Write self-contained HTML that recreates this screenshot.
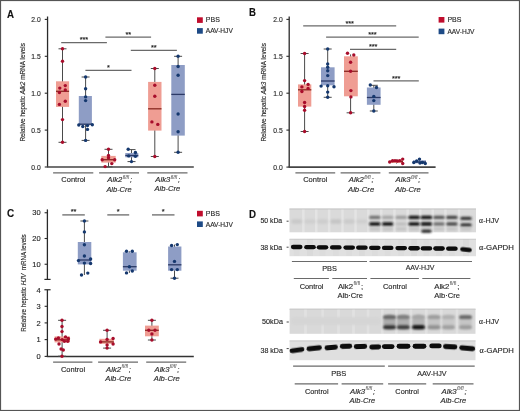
<!DOCTYPE html>
<html><head><meta charset="utf-8"><style>
html,body{margin:0;padding:0;background:#fff;}
body{width:520px;height:411px;overflow:hidden;font-family:"Liberation Sans",sans-serif;}
svg{display:block;will-change:transform;}
</style></head><body>
<svg width="520" height="411" viewBox="0 0 520 411" font-family="Liberation Sans, sans-serif">
<style>text{stroke:#2a2a2a;stroke-width:0.15px;}</style>
<defs><filter id="bl" x="-50%" y="-50%" width="200%" height="200%"><feGaussianBlur stdDeviation="0.65"/></filter><filter id="bl2" x="-50%" y="-50%" width="200%" height="200%"><feGaussianBlur stdDeviation="0.5"/></filter><filter id="bl3" x="-50%" y="-80%" width="200%" height="260%"><feGaussianBlur stdDeviation="0.95"/></filter></defs>
<rect x="0" y="0" width="520" height="411" fill="#ffffff" />
<text x="7.0" y="17.6" font-size="10.7" text-anchor="start" fill="#111" font-weight="bold" font-style="normal"  textLength="7.0" lengthAdjust="spacingAndGlyphs">A</text>
<line x1="47.55" y1="16.5" x2="47.55" y2="167.0" stroke="#2a2a2a" stroke-width="1.3"/>
<line x1="44.75" y1="19.4" x2="47.55" y2="19.4" stroke="#2a2a2a" stroke-width="1.1"/>
<text x="40.7" y="22.1" font-size="7.5" text-anchor="end" fill="#2a2a2a" font-weight="normal" font-style="normal"  textLength="9.4" lengthAdjust="spacingAndGlyphs">2.0</text>
<line x1="44.75" y1="56.3" x2="47.55" y2="56.3" stroke="#2a2a2a" stroke-width="1.1"/>
<text x="40.7" y="59.0" font-size="7.5" text-anchor="end" fill="#2a2a2a" font-weight="normal" font-style="normal"  textLength="9.4" lengthAdjust="spacingAndGlyphs">1.5</text>
<line x1="44.75" y1="93.2" x2="47.55" y2="93.2" stroke="#2a2a2a" stroke-width="1.1"/>
<text x="40.7" y="95.9" font-size="7.5" text-anchor="end" fill="#2a2a2a" font-weight="normal" font-style="normal"  textLength="9.4" lengthAdjust="spacingAndGlyphs">1.0</text>
<line x1="44.75" y1="130.1" x2="47.55" y2="130.1" stroke="#2a2a2a" stroke-width="1.1"/>
<text x="40.7" y="132.8" font-size="7.5" text-anchor="end" fill="#2a2a2a" font-weight="normal" font-style="normal"  textLength="9.4" lengthAdjust="spacingAndGlyphs">0.5</text>
<line x1="44.75" y1="167.0" x2="47.55" y2="167.0" stroke="#2a2a2a" stroke-width="1.1"/>
<text x="40.7" y="169.7" font-size="7.5" text-anchor="end" fill="#2a2a2a" font-weight="normal" font-style="normal"  textLength="9.4" lengthAdjust="spacingAndGlyphs">0.0</text>
<line x1="47.0" y1="167.05" x2="193.8" y2="167.05" stroke="#444" stroke-width="1.6"/>
<text transform="translate(24.6,92.35) rotate(-90)" font-size="6.8" text-anchor="middle" fill="#2a2a2a" textLength="98.5" lengthAdjust="spacingAndGlyphs"><tspan font-style="normal">Relative hepatic </tspan><tspan font-style="italic">Alk2</tspan><tspan font-style="normal"> mRNA levels</tspan></text>
<line x1="53.1" y1="172.8" x2="93.3" y2="172.8" stroke="#6a6a6a" stroke-width="1.3"/>
<line x1="99.1" y1="172.8" x2="139" y2="172.8" stroke="#6a6a6a" stroke-width="1.3"/>
<line x1="147.3" y1="172.8" x2="187.5" y2="172.8" stroke="#6a6a6a" stroke-width="1.3"/>
<text x="73.45" y="182.3" font-size="8.0" text-anchor="middle" fill="#2a2a2a" font-weight="normal" font-style="normal"  textLength="24.2" lengthAdjust="spacingAndGlyphs">Control</text>
<text x="107.3" y="182.1" font-size="7.7" fill="#2a2a2a" font-style="italic">Alk2<tspan font-size="5.08" dx="0.4" dy="-3.4" style="stroke:none" fill="#444">fl/fl</tspan><tspan dx="0.9" dy="3.4">;</tspan></text>
<text x="106.4" y="191.5" font-size="7.7" text-anchor="start" fill="#2a2a2a" font-weight="normal" font-style="italic"  textLength="25.2" lengthAdjust="spacingAndGlyphs">Alb-Cre</text>
<text x="155.3" y="182.1" font-size="7.7" fill="#2a2a2a" font-style="italic">Alk3<tspan font-size="5.08" dx="0.4" dy="-3.4" style="stroke:none" fill="#444">fl/fl</tspan><tspan dx="0.9" dy="3.4">;</tspan></text>
<text x="154.4" y="191.4" font-size="7.7" text-anchor="start" fill="#2a2a2a" font-weight="normal" font-style="italic"  textLength="25.8" lengthAdjust="spacingAndGlyphs">Alb-Cre</text>
<line x1="62.5" y1="48.8" x2="62.5" y2="142.3" stroke="#4a4a4a" stroke-width="1.0"/>
<rect x="56" y="81.3" width="13.1" height="25.6" fill="#ef9d93" />
<line x1="56" y1="91.3" x2="69.1" y2="91.3" stroke="#8a2a22" stroke-width="1.3"/>
<line x1="58.5" y1="48.8" x2="66.5" y2="48.8" stroke="#4a4a4a" stroke-width="1.0"/>
<line x1="58.5" y1="142.3" x2="66.5" y2="142.3" stroke="#4a4a4a" stroke-width="1.0"/>
<circle cx="62.5" cy="48.8" r="1.7" fill="#a80d2b"/>
<circle cx="62.5" cy="61.3" r="1.7" fill="#a80d2b"/>
<circle cx="65.3" cy="85.6" r="1.7" fill="#a80d2b"/>
<circle cx="59.8" cy="88.1" r="1.7" fill="#a80d2b"/>
<circle cx="65.3" cy="90" r="1.7" fill="#a80d2b"/>
<circle cx="59.4" cy="92.5" r="1.7" fill="#a80d2b"/>
<circle cx="65.3" cy="101.3" r="1.7" fill="#a80d2b"/>
<circle cx="59.4" cy="104.4" r="1.7" fill="#a80d2b"/>
<circle cx="62.5" cy="119.6" r="1.7" fill="#a80d2b"/>
<circle cx="62.5" cy="142.3" r="1.7" fill="#a80d2b"/>
<line x1="85.6" y1="77" x2="85.6" y2="140.4" stroke="#4a4a4a" stroke-width="1.0"/>
<rect x="78.8" y="96" width="13.1" height="28.8" fill="#8e9dc5" />
<line x1="78.8" y1="124.2" x2="91.9" y2="124.2" stroke="#2c3a66" stroke-width="1.3"/>
<line x1="81.6" y1="77" x2="89.6" y2="77" stroke="#4a4a4a" stroke-width="1.0"/>
<line x1="81.6" y1="140.4" x2="89.6" y2="140.4" stroke="#4a4a4a" stroke-width="1.0"/>
<circle cx="85.6" cy="77" r="1.7" fill="#15386e"/>
<circle cx="85.6" cy="88.8" r="1.7" fill="#15386e"/>
<circle cx="85.6" cy="96.9" r="1.7" fill="#15386e"/>
<circle cx="85.6" cy="100.6" r="1.7" fill="#15386e"/>
<circle cx="78.8" cy="125" r="1.7" fill="#15386e"/>
<circle cx="82.8" cy="126.5" r="1.7" fill="#15386e"/>
<circle cx="87.5" cy="125.6" r="1.7" fill="#15386e"/>
<circle cx="92.3" cy="124.8" r="1.7" fill="#15386e"/>
<circle cx="87.5" cy="129.4" r="1.7" fill="#15386e"/>
<circle cx="85.6" cy="140.4" r="1.7" fill="#15386e"/>
<line x1="108.5" y1="149.3" x2="108.5" y2="166.9" stroke="#4a4a4a" stroke-width="1.0"/>
<rect x="101.3" y="155.9" width="14.4" height="6.7" fill="#ef9d93" />
<line x1="101.3" y1="159.7" x2="115.7" y2="159.7" stroke="#8a2a22" stroke-width="1.3"/>
<line x1="104.5" y1="149.3" x2="112.5" y2="149.3" stroke="#4a4a4a" stroke-width="1.0"/>
<line x1="104.5" y1="166.9" x2="112.5" y2="166.9" stroke="#4a4a4a" stroke-width="1.0"/>
<circle cx="108.5" cy="149.3" r="1.7" fill="#a80d2b"/>
<circle cx="108.5" cy="155.4" r="1.7" fill="#a80d2b"/>
<circle cx="108.5" cy="157.8" r="1.7" fill="#a80d2b"/>
<circle cx="102.2" cy="159.7" r="1.7" fill="#a80d2b"/>
<circle cx="114.7" cy="159.7" r="1.7" fill="#a80d2b"/>
<circle cx="111.8" cy="163.6" r="1.7" fill="#a80d2b"/>
<circle cx="105.1" cy="166.6" r="1.7" fill="#a80d2b"/>
<line x1="131.5" y1="149.6" x2="131.5" y2="161.6" stroke="#4a4a4a" stroke-width="1.0"/>
<rect x="125.3" y="153" width="13" height="4.3" fill="#8e9dc5" />
<line x1="125.3" y1="155.5" x2="138.3" y2="155.5" stroke="#2c3a66" stroke-width="1.3"/>
<line x1="127.5" y1="149.6" x2="135.5" y2="149.6" stroke="#4a4a4a" stroke-width="1.0"/>
<line x1="127.5" y1="161.6" x2="135.5" y2="161.6" stroke="#4a4a4a" stroke-width="1.0"/>
<circle cx="128.2" cy="149.3" r="1.7" fill="#15386e"/>
<circle cx="135.4" cy="152.5" r="1.7" fill="#15386e"/>
<circle cx="128.7" cy="155.9" r="1.7" fill="#15386e"/>
<circle cx="135.4" cy="156.3" r="1.7" fill="#15386e"/>
<circle cx="131.5" cy="161.6" r="1.7" fill="#15386e"/>
<line x1="154.8" y1="68.5" x2="154.8" y2="156.5" stroke="#4a4a4a" stroke-width="1.0"/>
<rect x="148.1" y="81.9" width="13.4" height="48.7" fill="#ef9d93" />
<line x1="148.1" y1="108.8" x2="161.5" y2="108.8" stroke="#8a2a22" stroke-width="1.3"/>
<line x1="150.8" y1="68.5" x2="158.8" y2="68.5" stroke="#4a4a4a" stroke-width="1.0"/>
<line x1="150.8" y1="156.5" x2="158.8" y2="156.5" stroke="#4a4a4a" stroke-width="1.0"/>
<circle cx="154.8" cy="68.5" r="1.7" fill="#a80d2b"/>
<circle cx="154.8" cy="85.3" r="1.7" fill="#a80d2b"/>
<circle cx="154.8" cy="96.3" r="1.7" fill="#a80d2b"/>
<circle cx="151.9" cy="121.9" r="1.7" fill="#a80d2b"/>
<circle cx="157.8" cy="124.4" r="1.7" fill="#a80d2b"/>
<circle cx="154.8" cy="156.5" r="1.7" fill="#a80d2b"/>
<line x1="178.1" y1="56.3" x2="178.1" y2="152.3" stroke="#4a4a4a" stroke-width="1.0"/>
<rect x="171.3" y="65" width="13.5" height="70.6" fill="#8e9dc5" />
<line x1="171.3" y1="94.4" x2="184.8" y2="94.4" stroke="#2c3a66" stroke-width="1.3"/>
<line x1="174.1" y1="56.3" x2="182.1" y2="56.3" stroke="#4a4a4a" stroke-width="1.0"/>
<line x1="174.1" y1="152.3" x2="182.1" y2="152.3" stroke="#4a4a4a" stroke-width="1.0"/>
<circle cx="178.1" cy="56.3" r="1.7" fill="#15386e"/>
<circle cx="178.1" cy="66.5" r="1.7" fill="#15386e"/>
<circle cx="178.1" cy="75.3" r="1.7" fill="#15386e"/>
<circle cx="178.1" cy="114" r="1.7" fill="#15386e"/>
<circle cx="178.1" cy="131.7" r="1.7" fill="#15386e"/>
<circle cx="178.1" cy="152.3" r="1.7" fill="#15386e"/>
<line x1="61.2" y1="42.6" x2="106.9" y2="42.6" stroke="#6a6a6a" stroke-width="1.3"/>
<text x="81.3" y="42.2" font-size="7.4" text-anchor="middle" fill="#111">*</text>
<text x="84.05" y="42.2" font-size="7.4" text-anchor="middle" fill="#111">*</text>
<text x="86.8" y="42.2" font-size="7.4" text-anchor="middle" fill="#111">*</text>
<line x1="105.4" y1="37.1" x2="151.1" y2="37.1" stroke="#6a6a6a" stroke-width="1.3"/>
<text x="126.88" y="36.7" font-size="7.4" text-anchor="middle" fill="#111">*</text>
<text x="129.62" y="36.7" font-size="7.4" text-anchor="middle" fill="#111">*</text>
<line x1="85.4" y1="70.3" x2="131.5" y2="70.3" stroke="#6a6a6a" stroke-width="1.3"/>
<text x="108.45" y="69.9" font-size="7.4" text-anchor="middle" fill="#111">*</text>
<line x1="130.8" y1="50.4" x2="176.9" y2="50.4" stroke="#6a6a6a" stroke-width="1.3"/>
<text x="152.48" y="50.0" font-size="7.4" text-anchor="middle" fill="#111">*</text>
<text x="155.23" y="50.0" font-size="7.4" text-anchor="middle" fill="#111">*</text>
<rect x="197" y="17.3" width="5.8" height="5.6" fill="#c00d2d" />
<text x="205.8" y="22.3" font-size="7" text-anchor="start" fill="#2a2a2a" font-weight="normal" font-style="normal" >PBS</text>
<rect x="197" y="28.1" width="5.8" height="5.6" fill="#1d4a86" />
<text x="205.8" y="33.2" font-size="7" text-anchor="start" fill="#2a2a2a" font-weight="normal" font-style="normal"  textLength="27" lengthAdjust="spacingAndGlyphs">AAV-HJV</text>
<text x="249.1" y="15.5" font-size="10.7" text-anchor="start" fill="#111" font-weight="bold" font-style="normal"  textLength="6.9" lengthAdjust="spacingAndGlyphs">B</text>
<line x1="289.2" y1="16.5" x2="289.2" y2="167.1" stroke="#2a2a2a" stroke-width="1.3"/>
<line x1="286.4" y1="19.4" x2="289.2" y2="19.4" stroke="#2a2a2a" stroke-width="1.1"/>
<text x="282.7" y="22.1" font-size="7.5" text-anchor="end" fill="#2a2a2a" font-weight="normal" font-style="normal"  textLength="9.4" lengthAdjust="spacingAndGlyphs">2.0</text>
<line x1="286.4" y1="56.3" x2="289.2" y2="56.3" stroke="#2a2a2a" stroke-width="1.1"/>
<text x="282.7" y="59.0" font-size="7.5" text-anchor="end" fill="#2a2a2a" font-weight="normal" font-style="normal"  textLength="9.4" lengthAdjust="spacingAndGlyphs">1.5</text>
<line x1="286.4" y1="93.2" x2="289.2" y2="93.2" stroke="#2a2a2a" stroke-width="1.1"/>
<text x="282.7" y="95.9" font-size="7.5" text-anchor="end" fill="#2a2a2a" font-weight="normal" font-style="normal"  textLength="9.4" lengthAdjust="spacingAndGlyphs">1.0</text>
<line x1="286.4" y1="130.1" x2="289.2" y2="130.1" stroke="#2a2a2a" stroke-width="1.1"/>
<text x="282.7" y="132.8" font-size="7.5" text-anchor="end" fill="#2a2a2a" font-weight="normal" font-style="normal"  textLength="9.4" lengthAdjust="spacingAndGlyphs">0.5</text>
<line x1="286.4" y1="167.1" x2="289.2" y2="167.1" stroke="#2a2a2a" stroke-width="1.1"/>
<text x="282.7" y="169.8" font-size="7.5" text-anchor="end" fill="#2a2a2a" font-weight="normal" font-style="normal"  textLength="9.4" lengthAdjust="spacingAndGlyphs">0.0</text>
<line x1="288.6" y1="167.15" x2="435.6" y2="167.15" stroke="#444" stroke-width="1.6"/>
<text transform="translate(265.9,92.35) rotate(-90)" font-size="6.8" text-anchor="middle" fill="#2a2a2a" textLength="98.5" lengthAdjust="spacingAndGlyphs"><tspan font-style="normal">Relative hepatic </tspan><tspan font-style="italic">Alk3</tspan><tspan font-style="normal"> mRNA levels</tspan></text>
<line x1="295.4" y1="172.8" x2="335.2" y2="172.8" stroke="#6a6a6a" stroke-width="1.3"/>
<line x1="340.6" y1="172.8" x2="380.4" y2="172.8" stroke="#6a6a6a" stroke-width="1.3"/>
<line x1="388.8" y1="172.8" x2="428.5" y2="172.8" stroke="#6a6a6a" stroke-width="1.3"/>
<text x="315.3" y="182.2" font-size="8.0" text-anchor="middle" fill="#2a2a2a" font-weight="normal" font-style="normal"  textLength="24.2" lengthAdjust="spacingAndGlyphs">Control</text>
<text x="348.8" y="182.1" font-size="7.7" fill="#2a2a2a" font-style="italic">Alk2<tspan font-size="5.08" dx="0.4" dy="-3.4" style="stroke:none" fill="#444">fl/fl</tspan><tspan dx="0.9" dy="3.4">;</tspan></text>
<text x="348.0" y="191.6" font-size="7.7" text-anchor="start" fill="#2a2a2a" font-weight="normal" font-style="italic"  textLength="26.2" lengthAdjust="spacingAndGlyphs">Alb-Cre</text>
<text x="395.6" y="182.1" font-size="7.7" fill="#2a2a2a" font-style="italic">Alk3<tspan font-size="5.08" dx="0.4" dy="-3.4" style="stroke:none" fill="#444">fl/fl</tspan><tspan dx="0.9" dy="3.4">;</tspan></text>
<text x="395.0" y="191.6" font-size="7.7" text-anchor="start" fill="#2a2a2a" font-weight="normal" font-style="italic"  textLength="25.8" lengthAdjust="spacingAndGlyphs">Alb-Cre</text>
<line x1="304.6" y1="53.5" x2="304.6" y2="131.5" stroke="#4a4a4a" stroke-width="1.0"/>
<rect x="298" y="84.4" width="13.3" height="22.2" fill="#ef9d93" />
<line x1="298" y1="89.8" x2="311.3" y2="89.8" stroke="#8a2a22" stroke-width="1.3"/>
<line x1="300.6" y1="53.5" x2="308.6" y2="53.5" stroke="#4a4a4a" stroke-width="1.0"/>
<line x1="300.6" y1="131.5" x2="308.6" y2="131.5" stroke="#4a4a4a" stroke-width="1.0"/>
<circle cx="304.6" cy="53.5" r="1.7" fill="#a80d2b"/>
<circle cx="304.6" cy="80.6" r="1.7" fill="#a80d2b"/>
<circle cx="308.1" cy="84.4" r="1.7" fill="#a80d2b"/>
<circle cx="301.9" cy="86.9" r="1.7" fill="#a80d2b"/>
<circle cx="308.1" cy="88.4" r="1.7" fill="#a80d2b"/>
<circle cx="301.9" cy="91.5" r="1.7" fill="#a80d2b"/>
<circle cx="304.6" cy="102.5" r="1.7" fill="#a80d2b"/>
<circle cx="304.6" cy="106.5" r="1.7" fill="#a80d2b"/>
<circle cx="304.6" cy="110.3" r="1.7" fill="#a80d2b"/>
<circle cx="304.6" cy="131.5" r="1.7" fill="#a80d2b"/>
<line x1="327.7" y1="49" x2="327.7" y2="97.3" stroke="#4a4a4a" stroke-width="1.0"/>
<rect x="321.0" y="67.3" width="13.6" height="18.0" fill="#8e9dc5" />
<line x1="321.0" y1="81.0" x2="334.6" y2="81.0" stroke="#2c3a66" stroke-width="1.3"/>
<line x1="323.7" y1="49" x2="331.7" y2="49" stroke="#4a4a4a" stroke-width="1.0"/>
<line x1="323.7" y1="97.3" x2="331.7" y2="97.3" stroke="#4a4a4a" stroke-width="1.0"/>
<circle cx="327.7" cy="49" r="1.7" fill="#15386e"/>
<circle cx="327.7" cy="63.9" r="1.7" fill="#15386e"/>
<circle cx="327.7" cy="67.3" r="1.7" fill="#15386e"/>
<circle cx="327.7" cy="70.7" r="1.7" fill="#15386e"/>
<circle cx="327.7" cy="75.6" r="1.7" fill="#15386e"/>
<circle cx="321.1" cy="86.1" r="1.7" fill="#15386e"/>
<circle cx="327.7" cy="85.8" r="1.7" fill="#15386e"/>
<circle cx="334" cy="86.8" r="1.7" fill="#15386e"/>
<circle cx="327.7" cy="92.1" r="1.7" fill="#15386e"/>
<circle cx="327.7" cy="97.3" r="1.7" fill="#15386e"/>
<line x1="350.6" y1="54.4" x2="350.6" y2="112.8" stroke="#4a4a4a" stroke-width="1.0"/>
<rect x="344" y="56.3" width="13.8" height="40.0" fill="#ef9d93" />
<line x1="344" y1="71.3" x2="357.8" y2="71.3" stroke="#8a2a22" stroke-width="1.3"/>
<line x1="346.6" y1="112.8" x2="354.6" y2="112.8" stroke="#4a4a4a" stroke-width="1.0"/>
<circle cx="347.5" cy="53.3" r="1.7" fill="#a80d2b"/>
<circle cx="353.8" cy="55" r="1.7" fill="#a80d2b"/>
<circle cx="350.6" cy="62.3" r="1.7" fill="#a80d2b"/>
<circle cx="350.6" cy="71.3" r="1.7" fill="#a80d2b"/>
<circle cx="350.9" cy="90.6" r="1.7" fill="#a80d2b"/>
<circle cx="350.9" cy="96.9" r="1.7" fill="#a80d2b"/>
<circle cx="350.6" cy="112.8" r="1.7" fill="#a80d2b"/>
<line x1="373.8" y1="85.3" x2="373.8" y2="111" stroke="#4a4a4a" stroke-width="1.0"/>
<rect x="366.9" y="87.5" width="13.7" height="17.3" fill="#8e9dc5" />
<line x1="366.9" y1="97.5" x2="380.6" y2="97.5" stroke="#2c3a66" stroke-width="1.3"/>
<line x1="369.8" y1="85.3" x2="377.8" y2="85.3" stroke="#4a4a4a" stroke-width="1.0"/>
<line x1="369.8" y1="111" x2="377.8" y2="111" stroke="#4a4a4a" stroke-width="1.0"/>
<circle cx="370.3" cy="85" r="1.7" fill="#15386e"/>
<circle cx="376.5" cy="87.5" r="1.7" fill="#15386e"/>
<circle cx="373.8" cy="96.5" r="1.7" fill="#15386e"/>
<circle cx="373.8" cy="100.6" r="1.7" fill="#15386e"/>
<circle cx="373.8" cy="111" r="1.7" fill="#15386e"/>
<line x1="396.5" y1="159.5" x2="396.5" y2="163.5" stroke="#4a4a4a" stroke-width="1.0"/>
<rect x="390" y="160.3" width="13" height="2.7" fill="#ef9d93" />
<line x1="390" y1="161.5" x2="403" y2="161.5" stroke="#8a2a22" stroke-width="1.3"/>
<circle cx="389.7" cy="162" r="1.7" fill="#a80d2b"/>
<circle cx="392.6" cy="160.8" r="1.7" fill="#a80d2b"/>
<circle cx="395" cy="160.6" r="1.7" fill="#a80d2b"/>
<circle cx="397.4" cy="161" r="1.7" fill="#a80d2b"/>
<circle cx="399.8" cy="160.6" r="1.7" fill="#a80d2b"/>
<circle cx="402.7" cy="159.1" r="1.7" fill="#a80d2b"/>
<circle cx="402.7" cy="163.5" r="1.7" fill="#a80d2b"/>
<line x1="419.5" y1="159.1" x2="419.5" y2="163.5" stroke="#4a4a4a" stroke-width="1.0"/>
<rect x="413" y="160.3" width="13" height="3.0" fill="#8e9dc5" />
<line x1="413" y1="162" x2="426" y2="162" stroke="#2c3a66" stroke-width="1.3"/>
<circle cx="413.8" cy="162.5" r="1.7" fill="#15386e"/>
<circle cx="416.7" cy="161" r="1.7" fill="#15386e"/>
<circle cx="419.5" cy="159.1" r="1.7" fill="#15386e"/>
<circle cx="420" cy="163" r="1.7" fill="#15386e"/>
<circle cx="422.4" cy="162.5" r="1.7" fill="#15386e"/>
<circle cx="425.3" cy="163.5" r="1.7" fill="#15386e"/>
<line x1="303.2" y1="25.9" x2="396.2" y2="25.9" stroke="#6a6a6a" stroke-width="1.3"/>
<text x="346.95" y="25.5" font-size="7.4" text-anchor="middle" fill="#111">*</text>
<text x="349.7" y="25.5" font-size="7.4" text-anchor="middle" fill="#111">*</text>
<text x="352.45" y="25.5" font-size="7.4" text-anchor="middle" fill="#111">*</text>
<line x1="326.1" y1="37.1" x2="418.7" y2="37.1" stroke="#6a6a6a" stroke-width="1.3"/>
<text x="369.65" y="36.7" font-size="7.4" text-anchor="middle" fill="#111">*</text>
<text x="372.4" y="36.7" font-size="7.4" text-anchor="middle" fill="#111">*</text>
<text x="375.15" y="36.7" font-size="7.4" text-anchor="middle" fill="#111">*</text>
<line x1="350" y1="49.3" x2="396.2" y2="49.3" stroke="#6a6a6a" stroke-width="1.3"/>
<text x="370.35" y="48.9" font-size="7.4" text-anchor="middle" fill="#111">*</text>
<text x="373.1" y="48.9" font-size="7.4" text-anchor="middle" fill="#111">*</text>
<text x="375.85" y="48.9" font-size="7.4" text-anchor="middle" fill="#111">*</text>
<line x1="373.5" y1="80.9" x2="418.8" y2="80.9" stroke="#6a6a6a" stroke-width="1.3"/>
<text x="393.4" y="80.5" font-size="7.4" text-anchor="middle" fill="#111">*</text>
<text x="396.15" y="80.5" font-size="7.4" text-anchor="middle" fill="#111">*</text>
<text x="398.9" y="80.5" font-size="7.4" text-anchor="middle" fill="#111">*</text>
<rect x="438.6" y="17" width="5.8" height="5.6" fill="#c00d2d" />
<text x="447.4" y="22.0" font-size="7" text-anchor="start" fill="#2a2a2a" font-weight="normal" font-style="normal" >PBS</text>
<rect x="438.6" y="28.6" width="5.8" height="5.6" fill="#1d4a86" />
<text x="447.4" y="33.7" font-size="7" text-anchor="start" fill="#2a2a2a" font-weight="normal" font-style="normal"  textLength="27" lengthAdjust="spacingAndGlyphs">AAV-HJV</text>
<text x="7.0" y="217.2" font-size="10.7" text-anchor="start" fill="#111" font-weight="bold" font-style="normal"  textLength="7.2" lengthAdjust="spacingAndGlyphs">C</text>
<line x1="47.4" y1="209.4" x2="47.4" y2="279.4" stroke="#2a2a2a" stroke-width="1.3"/>
<line x1="44.6" y1="212.75" x2="47.4" y2="212.75" stroke="#2a2a2a" stroke-width="1.1"/>
<text x="40.6" y="215.45" font-size="7.5" text-anchor="end" fill="#2a2a2a" font-weight="normal" font-style="normal" >30</text>
<line x1="44.6" y1="238.5" x2="47.4" y2="238.5" stroke="#2a2a2a" stroke-width="1.1"/>
<text x="40.6" y="241.2" font-size="7.5" text-anchor="end" fill="#2a2a2a" font-weight="normal" font-style="normal" >20</text>
<line x1="44.6" y1="264.25" x2="47.4" y2="264.25" stroke="#2a2a2a" stroke-width="1.1"/>
<text x="40.6" y="266.95" font-size="7.5" text-anchor="end" fill="#2a2a2a" font-weight="normal" font-style="normal" >10</text>
<line x1="44.4" y1="279.4" x2="50.6" y2="279.4" stroke="#2a2a2a" stroke-width="1.2"/>
<line x1="47.4" y1="289.75" x2="47.4" y2="356.5" stroke="#2a2a2a" stroke-width="1.3"/>
<line x1="44.6" y1="306.3" x2="47.4" y2="306.3" stroke="#2a2a2a" stroke-width="1.1"/>
<text x="40.6" y="309.0" font-size="7.5" text-anchor="end" fill="#2a2a2a" font-weight="normal" font-style="normal" >3</text>
<line x1="44.6" y1="322.9" x2="47.4" y2="322.9" stroke="#2a2a2a" stroke-width="1.1"/>
<text x="40.6" y="325.6" font-size="7.5" text-anchor="end" fill="#2a2a2a" font-weight="normal" font-style="normal" >2</text>
<line x1="44.6" y1="339.6" x2="47.4" y2="339.6" stroke="#2a2a2a" stroke-width="1.1"/>
<text x="40.6" y="342.3" font-size="7.5" text-anchor="end" fill="#2a2a2a" font-weight="normal" font-style="normal" >1</text>
<line x1="44.6" y1="356.4" x2="47.4" y2="356.4" stroke="#2a2a2a" stroke-width="1.1"/>
<text x="40.6" y="359.1" font-size="7.5" text-anchor="end" fill="#2a2a2a" font-weight="normal" font-style="normal" >0</text>
<line x1="44.4" y1="289.75" x2="50.6" y2="289.75" stroke="#2a2a2a" stroke-width="1.2"/>
<text x="40.6" y="292.5" font-size="7.5" text-anchor="end" fill="#2a2a2a" font-weight="normal" font-style="normal" >4</text>
<line x1="46.8" y1="356.5" x2="193.8" y2="356.5" stroke="#333" stroke-width="1.5"/>
<text transform="translate(26.4,283.05) rotate(-90)" font-size="6.8" text-anchor="middle" fill="#2a2a2a" textLength="97.5" lengthAdjust="spacingAndGlyphs"><tspan font-style="normal">Relative hepatic </tspan><tspan font-style="italic">HJV</tspan><tspan font-style="normal"> mRNA levels</tspan></text>
<line x1="53.1" y1="362.2" x2="92.4" y2="362.2" stroke="#6a6a6a" stroke-width="1.3"/>
<line x1="98.1" y1="362.2" x2="138" y2="362.2" stroke="#6a6a6a" stroke-width="1.3"/>
<line x1="146.2" y1="362.2" x2="186.2" y2="362.2" stroke="#6a6a6a" stroke-width="1.3"/>
<text x="73.05" y="371.5" font-size="8.0" text-anchor="middle" fill="#2a2a2a" font-weight="normal" font-style="normal"  textLength="24.2" lengthAdjust="spacingAndGlyphs">Control</text>
<text x="106.1" y="371.7" font-size="7.7" fill="#2a2a2a" font-style="italic">Alk2<tspan font-size="5.08" dx="0.4" dy="-3.4" style="stroke:none" fill="#444">fl/fl</tspan><tspan dx="0.9" dy="3.4">;</tspan></text>
<text x="105.3" y="380.9" font-size="7.7" text-anchor="start" fill="#2a2a2a" font-weight="normal" font-style="italic"  textLength="26.0" lengthAdjust="spacingAndGlyphs">Alb-Cre</text>
<text x="154.5" y="371.7" font-size="7.7" fill="#2a2a2a" font-style="italic">Alk3<tspan font-size="5.08" dx="0.4" dy="-3.4" style="stroke:none" fill="#444">fl/fl</tspan><tspan dx="0.9" dy="3.4">;</tspan></text>
<text x="153.8" y="380.9" font-size="7.7" text-anchor="start" fill="#2a2a2a" font-weight="normal" font-style="italic"  textLength="25.9" lengthAdjust="spacingAndGlyphs">Alb-Cre</text>
<line x1="62.1" y1="320.3" x2="62.1" y2="356.2" stroke="#4a4a4a" stroke-width="1.0"/>
<rect x="54.6" y="336.4" width="15.3" height="6.0" fill="#ef9d93" />
<line x1="54.6" y1="339.8" x2="69.9" y2="339.8" stroke="#8a2a22" stroke-width="1.3"/>
<line x1="58.1" y1="320.3" x2="66.1" y2="320.3" stroke="#4a4a4a" stroke-width="1.0"/>
<line x1="58.1" y1="356.2" x2="66.1" y2="356.2" stroke="#4a4a4a" stroke-width="1.0"/>
<circle cx="62" cy="320.3" r="1.7" fill="#a80d2b"/>
<circle cx="62" cy="326.5" r="1.7" fill="#a80d2b"/>
<circle cx="62" cy="331.6" r="1.7" fill="#a80d2b"/>
<circle cx="55.7" cy="339.1" r="1.7" fill="#a80d2b"/>
<circle cx="58.4" cy="338" r="1.7" fill="#a80d2b"/>
<circle cx="62.2" cy="339.6" r="1.7" fill="#a80d2b"/>
<circle cx="65.5" cy="336.9" r="1.7" fill="#a80d2b"/>
<circle cx="68.3" cy="338.5" r="1.7" fill="#a80d2b"/>
<circle cx="64.4" cy="341.3" r="1.7" fill="#a80d2b"/>
<circle cx="67.7" cy="341.3" r="1.7" fill="#a80d2b"/>
<circle cx="59" cy="344" r="1.7" fill="#a80d2b"/>
<circle cx="61.1" cy="349" r="1.7" fill="#a80d2b"/>
<circle cx="63.3" cy="350" r="1.7" fill="#a80d2b"/>
<circle cx="62" cy="356.2" r="1.7" fill="#a80d2b"/>
<line x1="107.1" y1="330.3" x2="107.1" y2="348.1" stroke="#4a4a4a" stroke-width="1.0"/>
<rect x="99.4" y="338.8" width="14.4" height="5.0" fill="#ef9d93" />
<line x1="99.4" y1="341.9" x2="113.8" y2="341.9" stroke="#8a2a22" stroke-width="1.3"/>
<line x1="103.1" y1="330.3" x2="111.1" y2="330.3" stroke="#4a4a4a" stroke-width="1.0"/>
<line x1="103.1" y1="348.1" x2="111.1" y2="348.1" stroke="#4a4a4a" stroke-width="1.0"/>
<circle cx="107.1" cy="330.3" r="1.7" fill="#a80d2b"/>
<circle cx="107.1" cy="339.4" r="1.7" fill="#a80d2b"/>
<circle cx="113.1" cy="338.5" r="1.7" fill="#a80d2b"/>
<circle cx="100.6" cy="341.9" r="1.7" fill="#a80d2b"/>
<circle cx="113.1" cy="344" r="1.7" fill="#a80d2b"/>
<circle cx="107.1" cy="345" r="1.7" fill="#a80d2b"/>
<circle cx="107.1" cy="348.1" r="1.7" fill="#a80d2b"/>
<line x1="151.9" y1="320.3" x2="151.9" y2="340" stroke="#4a4a4a" stroke-width="1.0"/>
<rect x="145" y="325.6" width="13.8" height="10.7" fill="#ef9d93" />
<line x1="145" y1="330.3" x2="158.8" y2="330.3" stroke="#8a2a22" stroke-width="1.3"/>
<line x1="147.9" y1="320.3" x2="155.9" y2="320.3" stroke="#4a4a4a" stroke-width="1.0"/>
<line x1="147.9" y1="340" x2="155.9" y2="340" stroke="#4a4a4a" stroke-width="1.0"/>
<circle cx="151.9" cy="320.3" r="1.7" fill="#a80d2b"/>
<circle cx="148.8" cy="330.3" r="1.7" fill="#a80d2b"/>
<circle cx="155" cy="330.3" r="1.7" fill="#a80d2b"/>
<circle cx="151.9" cy="334" r="1.7" fill="#a80d2b"/>
<circle cx="151.9" cy="340" r="1.7" fill="#a80d2b"/>
<line x1="84.4" y1="221" x2="84.4" y2="275" stroke="#4a4a4a" stroke-width="1.0"/>
<rect x="77.8" y="242" width="13.5" height="22.4" fill="#8e9dc5" />
<line x1="77.8" y1="260" x2="91.3" y2="260" stroke="#2c3a66" stroke-width="1.3"/>
<line x1="80.4" y1="221" x2="88.4" y2="221" stroke="#4a4a4a" stroke-width="1.0"/>
<circle cx="84.4" cy="221" r="1.7" fill="#15386e"/>
<circle cx="84.4" cy="231.9" r="1.7" fill="#15386e"/>
<circle cx="84.4" cy="244.8" r="1.7" fill="#15386e"/>
<circle cx="84.4" cy="256" r="1.7" fill="#15386e"/>
<circle cx="78.5" cy="260.6" r="1.7" fill="#15386e"/>
<circle cx="90.6" cy="259" r="1.7" fill="#15386e"/>
<circle cx="84.4" cy="263.1" r="1.7" fill="#15386e"/>
<circle cx="90.6" cy="263.5" r="1.7" fill="#15386e"/>
<circle cx="81.5" cy="275" r="1.7" fill="#15386e"/>
<circle cx="87.8" cy="273.1" r="1.7" fill="#15386e"/>
<line x1="129.4" y1="251.3" x2="129.4" y2="272.9" stroke="#4a4a4a" stroke-width="1.0"/>
<rect x="122.9" y="252.3" width="13.7" height="18.4" fill="#8e9dc5" />
<line x1="122.9" y1="266.7" x2="136.6" y2="266.7" stroke="#2c3a66" stroke-width="1.3"/>
<circle cx="126.5" cy="251.3" r="1.7" fill="#15386e"/>
<circle cx="132.3" cy="251.3" r="1.7" fill="#15386e"/>
<circle cx="129.4" cy="266.7" r="1.7" fill="#15386e"/>
<circle cx="126.5" cy="272.9" r="1.7" fill="#15386e"/>
<circle cx="132.3" cy="271" r="1.7" fill="#15386e"/>
<line x1="174.5" y1="244.6" x2="174.5" y2="278.2" stroke="#4a4a4a" stroke-width="1.0"/>
<rect x="168.1" y="246.5" width="13.3" height="24.2" fill="#8e9dc5" />
<line x1="168.1" y1="264.8" x2="181.4" y2="264.8" stroke="#2c3a66" stroke-width="1.3"/>
<line x1="170.5" y1="278.2" x2="178.5" y2="278.2" stroke="#4a4a4a" stroke-width="1.0"/>
<circle cx="171.6" cy="245.5" r="1.7" fill="#15386e"/>
<circle cx="177.3" cy="244.6" r="1.7" fill="#15386e"/>
<circle cx="174.5" cy="261.4" r="1.7" fill="#15386e"/>
<circle cx="171.6" cy="269.6" r="1.7" fill="#15386e"/>
<circle cx="177.3" cy="269.6" r="1.7" fill="#15386e"/>
<circle cx="174.5" cy="278.2" r="1.7" fill="#15386e"/>
<line x1="62.3" y1="214.9" x2="84.8" y2="214.9" stroke="#6a6a6a" stroke-width="1.3"/>
<text x="72.17" y="214.3" font-size="7.4" text-anchor="middle" fill="#111">*</text>
<text x="74.92" y="214.3" font-size="7.4" text-anchor="middle" fill="#111">*</text>
<line x1="107.3" y1="214.9" x2="129.2" y2="214.9" stroke="#6a6a6a" stroke-width="1.3"/>
<text x="118.25" y="214.2" font-size="7.4" text-anchor="middle" fill="#111">*</text>
<line x1="152" y1="214.9" x2="174.5" y2="214.9" stroke="#6a6a6a" stroke-width="1.3"/>
<text x="163.25" y="214.2" font-size="7.4" text-anchor="middle" fill="#111">*</text>
<rect x="197" y="210.8" width="5.8" height="5.6" fill="#c00d2d" />
<text x="205.8" y="215.8" font-size="7" text-anchor="start" fill="#2a2a2a" font-weight="normal" font-style="normal" >PBS</text>
<rect x="197" y="221.4" width="5.8" height="5.6" fill="#1d4a86" />
<text x="205.8" y="226.5" font-size="7" text-anchor="start" fill="#2a2a2a" font-weight="normal" font-style="normal"  textLength="27" lengthAdjust="spacingAndGlyphs">AAV-HJV</text>
<text x="249.1" y="217.5" font-size="10.7" text-anchor="start" fill="#111" font-weight="bold" font-style="normal"  textLength="7.0" lengthAdjust="spacingAndGlyphs">D</text>
<rect x="289.5" y="208.5" width="186.5" height="23.8" fill="#dadada" />
<rect x="289.5" y="208.5" width="186.5" height="1.2" fill="#cbcbcb" />
<rect x="302.15" y="209.5" width="2.4" height="22.8" fill="#fff" opacity="0.28" filter="url(#bl)"/>
<rect x="315.05" y="209.5" width="2.4" height="22.8" fill="#fff" opacity="0.28" filter="url(#bl)"/>
<rect x="327.95" y="209.5" width="2.4" height="22.8" fill="#fff" opacity="0.28" filter="url(#bl)"/>
<rect x="341.3" y="209.5" width="2.4" height="22.8" fill="#fff" opacity="0.28" filter="url(#bl)"/>
<rect x="354.35" y="209.5" width="2.4" height="22.8" fill="#fff" opacity="0.28" filter="url(#bl)"/>
<rect x="367.15" y="209.5" width="2.4" height="22.8" fill="#fff" opacity="0.28" filter="url(#bl)"/>
<rect x="380.05" y="209.5" width="2.4" height="22.8" fill="#fff" opacity="0.28" filter="url(#bl)"/>
<rect x="393.25" y="209.5" width="2.4" height="22.8" fill="#fff" opacity="0.28" filter="url(#bl)"/>
<rect x="406.45" y="209.5" width="2.4" height="22.8" fill="#fff" opacity="0.28" filter="url(#bl)"/>
<rect x="419.05" y="209.5" width="2.4" height="22.8" fill="#fff" opacity="0.28" filter="url(#bl)"/>
<rect x="431.5" y="209.5" width="2.4" height="22.8" fill="#fff" opacity="0.28" filter="url(#bl)"/>
<rect x="444.25" y="209.5" width="2.4" height="22.8" fill="#fff" opacity="0.28" filter="url(#bl)"/>
<rect x="457.75" y="209.5" width="2.4" height="22.8" fill="#fff" opacity="0.28" filter="url(#bl)"/>
<rect x="291.2" y="219.25" width="11" height="4.5" rx="2.25" fill="rgb(201,201,201)" filter="url(#bl3)"/>
<rect x="304.5" y="219.25" width="11" height="4.5" rx="2.25" fill="rgb(207,207,207)" filter="url(#bl3)"/>
<rect x="317.0" y="219.25" width="11" height="4.5" rx="2.25" fill="rgb(205,205,205)" filter="url(#bl3)"/>
<rect x="330.3" y="219.25" width="11" height="4.5" rx="2.25" fill="rgb(197,197,197)" filter="url(#bl3)"/>
<rect x="343.7" y="219.25" width="11" height="4.5" rx="2.25" fill="rgb(203,203,203)" filter="url(#bl3)"/>
<rect x="356.4" y="219.25" width="11" height="4.5" rx="2.25" fill="rgb(207,207,207)" filter="url(#bl3)"/>
<rect x="369.05" y="215.7" width="11.5" height="3.4" rx="1.7" fill="rgb(113,113,113)" filter="url(#bl3)"/>
<rect x="369.05" y="222.2" width="11.5" height="3.6" rx="1.8" fill="rgb(14,14,14)" filter="url(#bl3)"/>
<rect x="369.3" y="227.25" width="11" height="3.5" rx="1.75" fill="rgb(197,197,197)" filter="url(#bl3)"/>
<rect x="381.95" y="215.7" width="11.5" height="3.4" rx="1.7" fill="rgb(165,165,165)" filter="url(#bl3)"/>
<rect x="381.95" y="222.2" width="11.5" height="3.6" rx="1.8" fill="rgb(18,18,18)" filter="url(#bl3)"/>
<rect x="382.2" y="227.25" width="11" height="3.5" rx="1.75" fill="rgb(197,197,197)" filter="url(#bl3)"/>
<rect x="395.45" y="215.7" width="11.5" height="3.4" rx="1.7" fill="rgb(155,155,155)" filter="url(#bl3)"/>
<rect x="395.45" y="222.2" width="11.5" height="3.6" rx="1.8" fill="rgb(192,192,192)" filter="url(#bl3)"/>
<rect x="395.7" y="227.25" width="11" height="3.5" rx="1.75" fill="rgb(197,197,197)" filter="url(#bl3)"/>
<rect x="408.35" y="215.7" width="11.5" height="3.4" rx="1.7" fill="rgb(14,14,14)" filter="url(#bl3)"/>
<rect x="408.35" y="222.2" width="11.5" height="3.6" rx="1.8" fill="rgb(14,14,14)" filter="url(#bl3)"/>
<rect x="408.6" y="227.25" width="11" height="3.5" rx="1.75" fill="rgb(197,197,197)" filter="url(#bl3)"/>
<rect x="420.65" y="215.7" width="11.5" height="3.4" rx="1.7" fill="rgb(8,8,8)" filter="url(#bl3)"/>
<rect x="420.65" y="222.2" width="11.5" height="3.6" rx="1.8" fill="rgb(8,8,8)" filter="url(#bl3)"/>
<rect x="420.9" y="227.25" width="11" height="3.5" rx="1.75" fill="rgb(197,197,197)" filter="url(#bl3)"/>
<rect x="433.25" y="215.7" width="11.5" height="3.4" rx="1.7" fill="rgb(87,87,87)" filter="url(#bl3)"/>
<rect x="433.25" y="222.2" width="11.5" height="3.6" rx="1.8" fill="rgb(113,113,113)" filter="url(#bl3)"/>
<rect x="433.5" y="227.25" width="11" height="3.5" rx="1.75" fill="rgb(197,197,197)" filter="url(#bl3)"/>
<rect x="446.15" y="215.7" width="11.5" height="3.4" rx="1.7" fill="rgb(66,66,66)" filter="url(#bl3)"/>
<rect x="446.15" y="222.2" width="11.5" height="3.6" rx="1.8" fill="rgb(75,75,75)" filter="url(#bl3)"/>
<rect x="446.4" y="227.25" width="11" height="3.5" rx="1.75" fill="rgb(197,197,197)" filter="url(#bl3)"/>
<rect x="460.25" y="216.7" width="11.5" height="3.4" rx="1.7" fill="rgb(54,54,54)" filter="url(#bl3)"/>
<rect x="460.25" y="223.2" width="11.5" height="3.6" rx="1.8" fill="rgb(54,54,54)" filter="url(#bl3)"/>
<rect x="460.5" y="227.25" width="11" height="3.5" rx="1.75" fill="rgb(197,197,197)" filter="url(#bl3)"/>
<rect x="421.4" y="229.7" width="10" height="3" rx="1.5" fill="rgb(39,39,39)" filter="url(#bl3)"/>
<text x="282.2" y="223.1" font-size="7.3" text-anchor="end" fill="#2a2a2a" font-weight="normal" font-style="normal"  textLength="21.8" lengthAdjust="spacingAndGlyphs">50 kDa</text>
<line x1="286.6" y1="221.2" x2="288.6" y2="221.2" stroke="#333" stroke-width="0.9"/>
<rect x="289.5" y="238.8" width="186.5" height="17.4" fill="#e0e0e0" />
<rect x="289.5" y="238.8" width="186.5" height="1.2" fill="#d0d0d0" />
<rect x="293.7" y="239.5" width="6" height="16.5" fill="#000" opacity="0.01" filter="url(#bl)"/>
<rect x="307" y="239.5" width="6" height="16.5" fill="#000" opacity="0.02" filter="url(#bl)"/>
<rect x="319.5" y="239.5" width="6" height="16.5" fill="#000" opacity="0.01" filter="url(#bl)"/>
<rect x="332.8" y="239.5" width="6" height="16.5" fill="#000" opacity="0.01" filter="url(#bl)"/>
<rect x="346.2" y="239.5" width="6" height="16.5" fill="#000" opacity="0.01" filter="url(#bl)"/>
<rect x="358.9" y="239.5" width="6" height="16.5" fill="#000" opacity="0.02" filter="url(#bl)"/>
<rect x="371.8" y="239.5" width="6" height="16.5" fill="#000" opacity="0.01" filter="url(#bl)"/>
<rect x="384.7" y="239.5" width="6" height="16.5" fill="#000" opacity="0.01" filter="url(#bl)"/>
<rect x="398.2" y="239.5" width="6" height="16.5" fill="#000" opacity="0.01" filter="url(#bl)"/>
<rect x="411.1" y="239.5" width="6" height="16.5" fill="#000" opacity="0.02" filter="url(#bl)"/>
<rect x="423.4" y="239.5" width="6" height="16.5" fill="#000" opacity="0.01" filter="url(#bl)"/>
<rect x="436" y="239.5" width="6" height="16.5" fill="#000" opacity="0.01" filter="url(#bl)"/>
<rect x="448.9" y="239.5" width="6" height="16.5" fill="#000" opacity="0.01" filter="url(#bl)"/>
<rect x="463" y="239.5" width="6" height="16.5" fill="#000" opacity="0.02" filter="url(#bl)"/>
<rect x="290.9" y="244.85" width="11.6" height="4.3" rx="2.15" fill="rgb(8,8,8)" filter="url(#bl)"/>
<rect x="304.2" y="244.99" width="11.6" height="4.3" rx="2.15" fill="rgb(8,8,8)" filter="url(#bl)"/>
<rect x="316.7" y="245.13" width="11.6" height="4.3" rx="2.15" fill="rgb(8,8,8)" filter="url(#bl)"/>
<rect x="330.0" y="245.27" width="11.6" height="4.3" rx="2.15" fill="rgb(8,8,8)" filter="url(#bl)"/>
<rect x="343.4" y="245.4" width="11.6" height="4.3" rx="2.15" fill="rgb(8,8,8)" filter="url(#bl)"/>
<rect x="356.1" y="245.54" width="11.6" height="4.3" rx="2.15" fill="rgb(8,8,8)" filter="url(#bl)"/>
<rect x="369.0" y="245.68" width="11.6" height="4.3" rx="2.15" fill="rgb(8,8,8)" filter="url(#bl)"/>
<rect x="381.9" y="245.82" width="11.6" height="4.3" rx="2.15" fill="rgb(8,8,8)" filter="url(#bl)"/>
<rect x="395.4" y="245.96" width="11.6" height="4.3" rx="2.15" fill="rgb(8,8,8)" filter="url(#bl)"/>
<rect x="408.3" y="246.1" width="11.6" height="4.3" rx="2.15" fill="rgb(8,8,8)" filter="url(#bl)"/>
<rect x="420.6" y="246.23" width="11.6" height="4.3" rx="2.15" fill="rgb(8,8,8)" filter="url(#bl)"/>
<rect x="433.2" y="246.37" width="11.6" height="4.3" rx="2.15" fill="rgb(8,8,8)" filter="url(#bl)"/>
<rect x="446.1" y="246.51" width="11.6" height="4.3" rx="2.15" fill="rgb(8,8,8)" filter="url(#bl)"/>
<rect x="460.2" y="247.55" width="11.6" height="4.3" rx="2.15" fill="rgb(8,8,8)" filter="url(#bl)" transform="rotate(6 466 249.7)"/>
<text x="282.2" y="250.1" font-size="7.3" text-anchor="end" fill="#2a2a2a" font-weight="normal" font-style="normal"  textLength="21.8" lengthAdjust="spacingAndGlyphs">38 kDa</text>
<line x1="286.6" y1="247.2" x2="288.6" y2="247.2" stroke="#333" stroke-width="0.9"/>
<text x="478.9" y="223.2" font-size="7.6" fill="#2a2a2a" textLength="20.2" lengthAdjust="spacingAndGlyphs"><tspan font-family="Liberation Serif, serif" font-size="7.98">α</tspan><tspan dx="0.3">-</tspan>HJV</text>
<text x="478.9" y="249.7" font-size="7.6" fill="#2a2a2a" textLength="35" lengthAdjust="spacingAndGlyphs"><tspan font-family="Liberation Serif, serif" font-size="7.98">α</tspan><tspan dx="0.3">-</tspan>GAPDH</text>
<line x1="291.9" y1="261.5" x2="367" y2="261.5" stroke="#6a6a6a" stroke-width="1.2"/>
<line x1="369.5" y1="261.5" x2="472" y2="261.5" stroke="#6a6a6a" stroke-width="1.2"/>
<text x="329.5" y="270.7" font-size="7.8" text-anchor="middle" fill="#2a2a2a" font-weight="normal" font-style="normal"  textLength="14.7" lengthAdjust="spacingAndGlyphs">PBS</text>
<text x="420" y="270.4" font-size="7.8" text-anchor="middle" fill="#2a2a2a" font-weight="normal" font-style="normal"  textLength="28.6" lengthAdjust="spacingAndGlyphs">AAV-HJV</text>
<line x1="293.8" y1="278.5" x2="328.9" y2="278.5" stroke="#6a6a6a" stroke-width="1.2"/>
<line x1="332.3" y1="278.5" x2="367" y2="278.5" stroke="#6a6a6a" stroke-width="1.2"/>
<line x1="370.4" y1="278.5" x2="418.9" y2="278.5" stroke="#6a6a6a" stroke-width="1.2"/>
<line x1="422.3" y1="278.5" x2="470.4" y2="278.5" stroke="#6a6a6a" stroke-width="1.2"/>
<text x="311.55" y="288.8" font-size="7.8" text-anchor="middle" fill="#2a2a2a" font-weight="normal" font-style="normal"  textLength="23.8" lengthAdjust="spacingAndGlyphs">Control</text>
<text x="337.9" y="288.6" font-size="7.8" fill="#2a2a2a" font-style="normal">Alk2<tspan font-size="5.15" dx="0.4" dy="-3.4" style="stroke:none" fill="#444">fl/fl</tspan><tspan dx="0.9" dy="3.4">;</tspan></text>
<text x="337.4" y="298.0" font-size="7.8" text-anchor="start" fill="#2a2a2a" font-weight="normal" font-style="normal"  textLength="25.7" lengthAdjust="spacingAndGlyphs">Alb·Cre</text>
<text x="394.95" y="288.8" font-size="7.8" text-anchor="middle" fill="#2a2a2a" font-weight="normal" font-style="normal"  textLength="24.0" lengthAdjust="spacingAndGlyphs">Control</text>
<text x="434.2" y="288.6" font-size="7.8" fill="#2a2a2a" font-style="normal">Alk2<tspan font-size="5.15" dx="0.4" dy="-3.4" style="stroke:none" fill="#444">fl/fl</tspan><tspan dx="0.9" dy="3.4">;</tspan></text>
<text x="434.3" y="298.0" font-size="7.8" text-anchor="start" fill="#2a2a2a" font-weight="normal" font-style="normal"  textLength="25.8" lengthAdjust="spacingAndGlyphs">Alb·Cre</text>
<rect x="289.6" y="308.7" width="185.9" height="25.1" fill="#d9d9d9" />
<rect x="289.6" y="308.7" width="185.9" height="1.2" fill="#cbcbcb" />
<rect x="304.2" y="309.5" width="2.6" height="24.3" fill="#fff" opacity="0.22" filter="url(#bl)"/>
<rect x="321.3" y="309.5" width="2.6" height="24.3" fill="#fff" opacity="0.22" filter="url(#bl)"/>
<rect x="337.25" y="309.5" width="2.6" height="24.3" fill="#fff" opacity="0.22" filter="url(#bl)"/>
<rect x="352.25" y="309.5" width="2.6" height="24.3" fill="#fff" opacity="0.22" filter="url(#bl)"/>
<rect x="366.75" y="309.5" width="2.6" height="24.3" fill="#fff" opacity="0.22" filter="url(#bl)"/>
<rect x="381.05" y="309.5" width="2.6" height="24.3" fill="#fff" opacity="0.22" filter="url(#bl)"/>
<rect x="395.1" y="309.5" width="2.6" height="24.3" fill="#fff" opacity="0.22" filter="url(#bl)"/>
<rect x="409.6" y="309.5" width="2.6" height="24.3" fill="#fff" opacity="0.22" filter="url(#bl)"/>
<rect x="424.95" y="309.5" width="2.6" height="24.3" fill="#fff" opacity="0.22" filter="url(#bl)"/>
<rect x="439.95" y="309.5" width="2.6" height="24.3" fill="#fff" opacity="0.22" filter="url(#bl)"/>
<rect x="455.7" y="309.5" width="2.6" height="24.3" fill="#fff" opacity="0.22" filter="url(#bl)"/>
<rect x="291.0" y="317.0" width="90" height="8" rx="4.0" fill="rgb(213,213,213)" filter="url(#bl3)"/>
<rect x="383.0" y="314.5" width="13" height="15" rx="7.5" fill="rgb(171,171,171)" filter="url(#bl3)"/>
<rect x="383.0" y="315.3" width="13" height="3.8" rx="1.9" fill="rgb(102,102,102)" filter="url(#bl3)"/>
<rect x="383.0" y="325.2" width="13" height="4.0" rx="2.0" fill="rgb(50,50,50)" filter="url(#bl3)"/>
<rect x="396.8" y="314.5" width="13" height="15" rx="7.5" fill="rgb(176,176,176)" filter="url(#bl3)"/>
<rect x="396.8" y="315.3" width="13" height="3.8" rx="1.9" fill="rgb(123,123,123)" filter="url(#bl3)"/>
<rect x="396.8" y="325.2" width="13" height="4.0" rx="2.0" fill="rgb(60,60,60)" filter="url(#bl3)"/>
<rect x="412.0" y="314.5" width="13" height="15" rx="7.5" fill="rgb(180,180,180)" filter="url(#bl3)"/>
<rect x="412.0" y="315.3" width="13" height="3.8" rx="1.9" fill="rgb(165,165,165)" filter="url(#bl3)"/>
<rect x="412.0" y="325.2" width="13" height="4.0" rx="2.0" fill="rgb(8,8,8)" filter="url(#bl3)"/>
<rect x="427.5" y="314.5" width="13" height="15" rx="7.5" fill="rgb(197,197,197)" filter="url(#bl3)"/>
<rect x="427.5" y="315.3" width="13" height="3.8" rx="1.9" fill="rgb(155,155,155)" filter="url(#bl3)"/>
<rect x="427.5" y="325.2" width="13" height="4.0" rx="2.0" fill="rgb(144,144,144)" filter="url(#bl3)"/>
<rect x="442.0" y="314.5" width="13" height="15" rx="7.5" fill="rgb(201,201,201)" filter="url(#bl3)"/>
<rect x="442.0" y="315.3" width="13" height="3.8" rx="1.9" fill="rgb(176,176,176)" filter="url(#bl3)"/>
<rect x="442.0" y="325.2" width="13" height="4.0" rx="2.0" fill="rgb(159,159,159)" filter="url(#bl3)"/>
<rect x="459.0" y="314.5" width="13" height="15" rx="7.5" fill="rgb(197,197,197)" filter="url(#bl3)"/>
<rect x="459.0" y="315.3" width="13" height="3.8" rx="1.9" fill="rgb(102,102,102)" filter="url(#bl3)"/>
<rect x="459.0" y="325.2" width="13" height="4.0" rx="2.0" fill="rgb(155,155,155)" filter="url(#bl3)"/>
<text x="282.9" y="324.0" font-size="7.3" text-anchor="end" fill="#2a2a2a" font-weight="normal" font-style="normal"  textLength="20.8" lengthAdjust="spacingAndGlyphs">50kDa</text>
<line x1="286.6" y1="322" x2="288.8" y2="322" stroke="#333" stroke-width="0.9"/>
<rect x="289.6" y="340.4" width="185.9" height="19.8" fill="#dfdfdf" />
<rect x="289.6" y="340.4" width="185.9" height="1.2" fill="#cfcfcf" />
<rect x="289.6" y="347.65" width="14.8" height="4.9" rx="2.45" fill="rgb(8,8,8)" filter="url(#bl)" transform="rotate(-8 297 350.1)"/>
<rect x="306.55" y="345.75" width="15.3" height="4.9" rx="2.45" fill="rgb(8,8,8)" filter="url(#bl)" transform="rotate(-6 314.2 348.2)"/>
<rect x="324.55" y="345.05" width="13.3" height="4.9" rx="2.45" fill="rgb(8,8,8)" filter="url(#bl)" transform="rotate(-5 331.2 347.5)"/>
<rect x="339.85" y="343.75" width="12.3" height="4.9" rx="2.45" fill="rgb(8,8,8)" filter="url(#bl)" transform="rotate(-2 346 346.2)"/>
<rect x="353.85" y="344.05" width="13.3" height="4.9" rx="2.45" fill="rgb(8,8,8)" filter="url(#bl)" transform="rotate(-2 360.5 346.5)"/>
<rect x="369.3" y="344.55" width="11.8" height="4.9" rx="2.45" fill="rgb(8,8,8)" filter="url(#bl)" transform="rotate(-2 375.2 347)"/>
<rect x="381.9" y="344.15" width="12.6" height="4.9" rx="2.45" fill="rgb(8,8,8)" filter="url(#bl)"/>
<rect x="396.6" y="343.85" width="13.8" height="4.9" rx="2.45" fill="rgb(8,8,8)" filter="url(#bl)"/>
<rect x="412.6" y="343.85" width="13.8" height="4.9" rx="2.45" fill="rgb(8,8,8)" filter="url(#bl)"/>
<rect x="429.35" y="343.45" width="12.3" height="4.9" rx="2.45" fill="rgb(8,8,8)" filter="url(#bl)"/>
<rect x="443.05" y="344.35" width="14.3" height="4.9" rx="2.45" fill="rgb(8,8,8)" filter="url(#bl)" transform="rotate(3 450.2 346.8)"/>
<rect x="459.3" y="345.85" width="15.8" height="4.9" rx="2.45" fill="rgb(8,8,8)" filter="url(#bl)" transform="rotate(5 467.2 348.3)"/>
<text x="282.9" y="352.5" font-size="7.3" text-anchor="end" fill="#2a2a2a" font-weight="normal" font-style="normal"  textLength="22.4" lengthAdjust="spacingAndGlyphs">38 kDa</text>
<line x1="286.6" y1="348.6" x2="288.8" y2="348.6" stroke="#333" stroke-width="0.9"/>
<text x="478.9" y="324.0" font-size="7.6" fill="#2a2a2a" textLength="20.2" lengthAdjust="spacingAndGlyphs"><tspan font-family="Liberation Serif, serif" font-size="7.98">α</tspan><tspan dx="0.3">-</tspan>HJV</text>
<text x="479.4" y="352.8" font-size="7.6" fill="#2a2a2a" textLength="34.5" lengthAdjust="spacingAndGlyphs"><tspan font-family="Liberation Serif, serif" font-size="7.98">α</tspan><tspan dx="0.3">-</tspan>GAPDH</text>
<line x1="293.1" y1="366.1" x2="384.8" y2="366.1" stroke="#6a6a6a" stroke-width="1.2"/>
<line x1="388.1" y1="366.1" x2="474.7" y2="366.1" stroke="#6a6a6a" stroke-width="1.2"/>
<text x="338.8" y="375.8" font-size="7.8" text-anchor="middle" fill="#2a2a2a" font-weight="normal" font-style="normal"  textLength="15.0" lengthAdjust="spacingAndGlyphs">PBS</text>
<text x="432" y="375.8" font-size="7.8" text-anchor="middle" fill="#2a2a2a" font-weight="normal" font-style="normal"  textLength="29.3" lengthAdjust="spacingAndGlyphs">AAV-HJV</text>
<line x1="294.7" y1="383.9" x2="338.1" y2="383.9" stroke="#6a6a6a" stroke-width="1.2"/>
<line x1="341.6" y1="383.9" x2="383.2" y2="383.9" stroke="#6a6a6a" stroke-width="1.2"/>
<line x1="388.1" y1="383.9" x2="426.2" y2="383.9" stroke="#6a6a6a" stroke-width="1.2"/>
<line x1="432.7" y1="383.9" x2="473.5" y2="383.9" stroke="#6a6a6a" stroke-width="1.2"/>
<text x="316.75" y="393.9" font-size="7.8" text-anchor="middle" fill="#2a2a2a" font-weight="normal" font-style="normal"  textLength="23.6" lengthAdjust="spacingAndGlyphs">Control</text>
<text x="350.0" y="393.7" font-size="7.8" fill="#2a2a2a" font-style="italic">Alk3<tspan font-size="5.15" dx="0.4" dy="-3.4" style="stroke:none" fill="#444">fl/fl</tspan><tspan dx="0.9" dy="3.4">;</tspan></text>
<text x="349.6" y="403.1" font-size="7.8" text-anchor="start" fill="#2a2a2a" font-weight="normal" font-style="italic"  textLength="25.5" lengthAdjust="spacingAndGlyphs">Alb-Cre</text>
<text x="407.15" y="393.9" font-size="7.8" text-anchor="middle" fill="#2a2a2a" font-weight="normal" font-style="normal"  textLength="23.6" lengthAdjust="spacingAndGlyphs">Control</text>
<text x="441.5" y="393.7" font-size="7.8" fill="#2a2a2a" font-style="italic">Alk3<tspan font-size="5.15" dx="0.4" dy="-3.4" style="stroke:none" fill="#444">fl/fl</tspan><tspan dx="0.9" dy="3.4">;</tspan></text>
<text x="440.4" y="403.1" font-size="7.8" text-anchor="start" fill="#2a2a2a" font-weight="normal" font-style="italic"  textLength="25.8" lengthAdjust="spacingAndGlyphs">Alb-Cre</text>
<rect x="0.5" y="0.5" width="519" height="410" fill="none" stroke="#555" stroke-width="1.2"/>
</svg>
</body></html>
